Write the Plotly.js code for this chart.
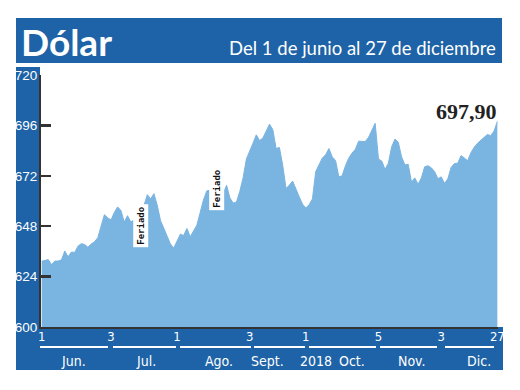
<!DOCTYPE html>
<html>
<head>
<meta charset="utf-8">
<script src="https://cdn.plot.ly/plotly-3.0.1.min.js"></script>
<style>html,body{margin:0;padding:0;background:#fff}#chart{width:520px;height:390px}</style>
</head>
<body>
<div id="chart"></div>
<script>
// Trading-day index (0 = 1 Jun 2018, 138 = 27 Dec 2018)
const dolar = [
  631.3, 631.8, 632.1, 629.7, 631.4, 631.4, 632.0, 636.2, 633.4, 635.7,
  635.5, 638.5, 639.7, 639.3, 638.0, 639.5, 640.6, 642.5, 647.5, 653.5,
  652.0, 651.0, 654.5, 657.2, 655.5, 650.0, 653.0, 650.0, 651.0, 651.4,
  652.0, 658.0, 663.0, 661.0, 663.5, 658.0, 650.7, 647.0, 643.5, 639.5,
  637.6, 640.8, 644.2, 643.6, 646.9, 643.0, 646.1, 648.5, 654.5, 660.5,
  664.8, 665.2, 666.5, 667.0, 664.4, 663.6, 667.5, 661.5, 659.0, 659.5,
  664.5, 671.0, 680.0, 683.5, 687.5, 691.5, 688.8, 690.0, 693.5, 696.6,
  694.0, 685.0, 685.5, 677.0, 666.0, 667.5, 669.5, 665.5, 662.0, 658.5,
  656.7, 658.2, 661.0, 674.0, 677.4, 680.5, 682.0, 685.0, 681.0, 679.3,
  671.5, 672.0, 676.8, 680.4, 682.8, 684.6, 688.5, 688.3, 688.3, 690.3,
  693.5, 697.0, 680.0, 679.0, 675.0, 678.0, 685.8, 689.5, 688.0, 681.0,
  677.2, 677.5, 669.0, 671.0, 668.0, 671.0, 676.3, 676.8, 675.8, 674.0,
  670.6, 671.5, 668.4, 670.5, 676.0, 677.8, 678.0, 681.6, 680.5, 679.2,
  683.0, 685.6, 687.5, 689.1, 690.3, 691.7, 691.1, 693.3, 697.9
];
const dayIndex = dolar.map((_, i) => i);

const xTickIdx = [0, 21, 41, 63, 80, 102, 121, 138];
const xTickText = ["1", "3", "1", "3", "1", "5", "3", "27"];
const yTickVals = [600, 624, 648, 672, 696, 720];
const yTickText = ["600", "624", "648", "672", "696", "720"];
const monthLabels = ["Jun.", "Jul.", "Ago.", "Sept.", "2018", "Oct.", "Nov.", "Dic."];
const feriadoIdx = [30, 53];
const lastLabel = "697,90";
const titleText = "Dólar";
const subtitleText = "Del 1 de junio al 27 de diciembre";

// ---- layout helpers (pixel -> paper) ----
const L = 41, R = 22, T = 75, B = 63, W = 520, H = 390;
const PW = W - L - R, PH = H - T - B;
const px = x => (x - L) / PW;
const py = y => (H - B - y) / PH;
const BLUE = "#1e63a7";
const FONT = "Lato, 'Open Sans', sans-serif";
const NARROW = "'Liberation Sans Narrow', 'DejaVu Sans Condensed', sans-serif";

const monthPx = [73, 146, 219, 267, 316, 352, 412, 479];
const sepSegs = [[40,108],[113,176],[180,251],[254,305],[309,376],[380,437],[445,494]];
const feriadoY = [226, 189];

const shapes = [
  {type:"rect", xref:"paper", yref:"paper", x0:px(16), x1:px(502), y0:py(63), y1:py(18), fillcolor:BLUE, line:{width:0}, layer:"below"},
  {type:"rect", xref:"paper", yref:"paper", x0:px(16), x1:px(40), y0:py(327), y1:py(67), fillcolor:BLUE, line:{width:0}, layer:"below"},
  {type:"rect", xref:"paper", yref:"paper", x0:px(16), x1:px(503), y0:py(370), y1:py(327), fillcolor:BLUE, line:{width:0}, layer:"below"}
];
sepSegs.forEach(s => shapes.push({type:"line", xref:"paper", yref:"paper", x0:px(s[0]), x1:px(s[1]), y0:py(347), y1:py(347), line:{color:"#ffffff", width:2}, layer:"below"}));

const annotations = [
  {xref:"paper", yref:"paper", x:px(19), y:py(41), xanchor:"left", yanchor:"middle", text:"<b>"+titleText+"</b>", showarrow:false, font:{family:FONT, size:37, color:"#ffffff"}},
  {xref:"paper", yref:"paper", x:px(498), y:py(48), xanchor:"right", yanchor:"middle", text:subtitleText, showarrow:false, font:{family:FONT, size:18.5, color:"#ffffff"}},
  {xref:"paper", yref:"paper", x:px(499), y:py(111), xanchor:"right", yanchor:"middle", text:"<b>"+lastLabel+"</b>", showarrow:false, font:{family:"'Liberation Serif', serif", size:22, color:"#222222"}}
];
monthLabels.forEach((m, i) => annotations.push({xref:"paper", yref:"paper", x:px(monthPx[i]), y:py(361), xanchor:"center", yanchor:"middle", text:m, showarrow:false, font:{family:NARROW, size:14, color:"#ffffff"}}));
feriadoIdx.forEach((d, i) => annotations.push({xref:"x", yref:"paper", x:d, y:py(feriadoY[i]), text:"<b>Feriado</b>", textangle:-90, showarrow:false, bgcolor:"#ffffff", borderpad:2, font:{family:"'DejaVu Sans Mono', monospace", size:9, color:"#111111"}}));

const trace = {
  x: dayIndex, y: dolar, type:"scatter", mode:"lines",
  fill:"tozeroy", fillcolor:"#7ab4e1", line:{color:"#7ab4e1", width:1}, hoverinfo:"skip"
};

const layout = {
  width:W, height:H, margin:{l:L, r:R, t:T, b:B, pad:0},
  paper_bgcolor:"#ffffff", plot_bgcolor:"#ffffff", showlegend:false,
  xaxis:{range:[-0.2, 138.2], showgrid:false, zeroline:false, showline:true, linecolor:"#333333", linewidth:2,
         tickmode:"array", tickvals:xTickIdx, ticktext:xTickText, ticks:"", ticklabelstandoff:-4,
         tickfont:{family:NARROW, size:13, color:"#ffffff"}},
  yaxis:{range:[600, 720], showgrid:false, zeroline:false, showline:true, linecolor:"#333333", linewidth:2,
         tickmode:"array", tickvals:yTickVals, ticktext:yTickText, ticks:"inside", ticklen:10, tickwidth:2.5, tickcolor:"#333333",
         ticklabelstandoff:-1, tickfont:{family:"'Liberation Sans', Arial, sans-serif", size:13.5, color:"#ffffff"}},
  shapes:shapes, annotations:annotations
};

Plotly.newPlot("chart", [trace], layout, {staticPlot:true, displayModeBar:false});
</script>
</body>
</html>
